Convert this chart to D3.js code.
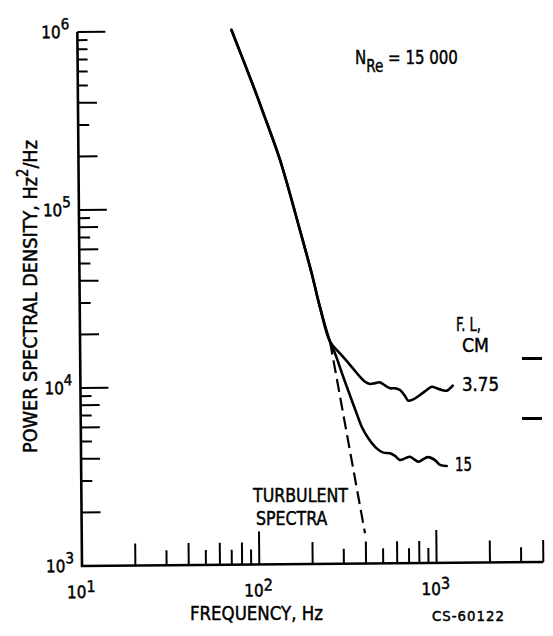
<!DOCTYPE html>
<html>
<head>
<meta charset="utf-8">
<script src="https://cdn.jsdelivr.net/npm/d3@7"></script>
<style>
  body { margin: 0; background: #fff; }
  svg { display: block; background: #fff; }
  text { font-family: "DejaVu Sans Condensed", "Liberation Sans Narrow", "DejaVu Sans", sans-serif; fill: #000; stroke: #000; stroke-width: 0.45px; }
</style>
</head>
<body>
<svg id="chart" width="553" height="636"></svg>
<script>
// Power spectral density of the fluctuations vs. frequency, N_Re = 15 000
// Shared low-frequency part of the spectrum (Hz, Hz^2/Hz)
const mainFreq = [74, 98, 111, 137, 176, 204, 226, 257];
const mainPsd  = [1.01e6, 4.83e5, 3.42e5, 1.87e5, 7.53e4, 4.30e4, 2.79e4, 1.77e4];

// Branch for F.L. = 3.75 cm
const fl375Freq = [257, 292, 332, 378, 403, 430, 459, 489, 522, 557, 594, 634, 676, 705, 753, 822, 897, 958, 1023, 1090, 1162, 1215, 1259];
const fl375Psd  = [1.77e4, 1.52e4, 1.31e4, 1.12e4, 1.05e4, 1.02e4, 1.03e4, 1.04e4, 1.00e4, 9.62e3, 9.62e3, 9.40e3, 8.70e3, 8.18e3, 8.32e3, 8.79e3, 9.37e3, 9.77e3, 9.57e3, 9.36e3, 9.26e3, 9.55e3, 9.89e3];

// Branch for F.L. = 15 cm
const fl15Freq = [257, 274, 304, 338, 360, 384, 418, 465, 507, 553, 590, 629, 671, 717, 764, 798, 851, 908, 991, 1057, 1153];
const fl15Psd  = [1.77e4, 1.52e4, 1.12e4, 8.30e3, 6.98e3, 5.87e3, 5.05e3, 4.43e3, 4.19e3, 4.15e3, 4.01e3, 3.80e3, 3.88e3, 3.96e3, 3.80e3, 3.71e3, 3.83e3, 3.93e3, 3.78e3, 3.55e3, 3.50e3];

// Extrapolated turbulent spectrum (straight power law)
const turbFreq = [257, 396];
const turbPsd  = [1.77e4, 1.48e3];

// Axis decades and their exponent labels
const xDomain = [10, 4000];
const yDomain = [1e3, 1e6];
const xTickExp = [1, 2, 3];
const yTickExp = [3, 4, 5, 6];

// Branch labels
const branchLabels = ["3.75", "15"];

const svg = d3.select("#chart");
const x0 = 82, y0 = 566, decX = 177.3, decY = 178;

const x = d3.scaleLog().domain(xDomain).range([x0, x0 + decX * Math.log10(xDomain[1] / xDomain[0])]);
const y = d3.scaleLog().domain(yDomain).range([y0, y0 - decY * Math.log10(yDomain[1] / yDomain[0])]);

// the whole frame sits slightly tilted
const g = svg.append("g").attr("transform", `rotate(-0.5 ${x0} ${y0})`);

// axis lines
g.append("path")
  .attr("d", `M${x0},${y(yDomain[1])}V${y0}H${x(xDomain[1])}`)
  .attr("fill", "none").attr("stroke", "#000").attr("stroke-width", 2.6)
  .attr("stroke-linejoin", "miter");

function mantissa(v) {
  return Math.round(v / Math.pow(10, Math.floor(Math.log10(v) + 1e-9)));
}

// x ticks (pointing up, inside the frame)
const xt = x.ticks().filter(t => t > xDomain[0] + 1e-9);
g.append("g").selectAll("line").data(xt).join("line")
  .attr("x1", d => x(d)).attr("x2", d => x(d))
  .attr("y1", y0)
  .attr("y2", d => {
    const m = mantissa(d);
    const len = m === 1 ? 33 : (m % 2 === 0 ? 22 : 15);
    return y0 - len;
  })
  .attr("stroke", "#000").attr("stroke-width", 2);

// y ticks (pointing right, inside the frame)
const yt = y.ticks().filter(t => t > yDomain[0] * 1.0001);
g.append("g").selectAll("line").data(yt).join("line")
  .attr("y1", d => y(d)).attr("y2", d => y(d))
  .attr("x1", x0)
  .attr("x2", d => {
    const m = mantissa(d);
    let len;
    if (m === 1) len = 28;
    else if (d > 1e5 && m >= 5) len = 10;
    else len = (m % 2 === 0) ? 19 : 11;
    return x0 + len;
  })
  .attr("stroke", "#000").attr("stroke-width", 2);

// x tick labels 10^n
xTickExp.forEach(e => {
  const t = g.append("text")
    .attr("x", x(Math.pow(10, e)) - 1).attr("y", y0 + 32)
    .attr("text-anchor", "middle").attr("font-size", 17);
  t.append("tspan").text("10");
  t.append("tspan").attr("dy", -6).attr("font-size", 16).text(e);
});

// y tick labels 10^n
yTickExp.forEach(e => {
  const t = g.append("text")
    .attr("x", x0 - 8).attr("y", y(Math.pow(10, e)) + 6)
    .attr("text-anchor", "end").attr("font-size", 17);
  t.append("tspan").text("10");
  t.append("tspan").attr("dy", -9).attr("font-size", 15).text(e);
});

// curves
const line = d3.line()
  .x(d => x(d[0])).y(d => y(d[1]))
  .curve(d3.curveCatmullRom.alpha(0.5));

const mainPts = mainFreq.map((f, i) => [f, mainPsd[i]]);
const b375 = mainPts.concat(fl375Freq.slice(1).map((f, i) => [f, fl375Psd[i + 1]]));
const b15 = mainPts.concat(fl15Freq.slice(1).map((f, i) => [f, fl15Psd[i + 1]]));
const turb = turbFreq.map((f, i) => [f, turbPsd[i]]);

[b375, b15].forEach(pts => {
  g.append("path").datum(pts).attr("d", line)
    .attr("fill", "none").attr("stroke", "#000").attr("stroke-width", 2.6)
    .attr("stroke-linecap", "round").attr("stroke-linejoin", "round");
});

g.append("path").datum(turb).attr("d", d3.line().x(d => x(d[0])).y(d => y(d[1])))
  .attr("fill", "none").attr("stroke", "#000").attr("stroke-width", 2.2)
  .attr("stroke-dasharray", "13,6");

// text helper: squeeze a text to a given width
function fitText(sel, width, tx, ty, rot) {
  const w = sel.node().getBBox().width;
  const s = width / w;
  sel.attr("transform", `translate(${tx},${ty})` + (rot ? ` rotate(${rot})` : "") + ` scale(${s},1)`);
}

// axis titles
const yTitle = svg.append("text").attr("x", 0).attr("y", 0)
  .attr("text-anchor", "middle").attr("font-size", 20);
yTitle.append("tspan").text("POWER SPECTRAL DENSITY, Hz");
yTitle.append("tspan").attr("dy", -9).attr("font-size", 15).text("2");
yTitle.append("tspan").attr("dy", 9).text("/Hz");
fitText(yTitle, 313, 37, 296.5, -90);

const xTitle = svg.append("text").attr("x", 0).attr("y", 0).attr("font-size", 20)
  .text("FREQUENCY, Hz");
fitText(xTitle, 133, 190, 620);

const code = svg.append("text").attr("x", 0).attr("y", 0).attr("font-size", 14)
  .attr("letter-spacing", 1).text("CS-60122");
fitText(code, 73, 432, 621);

// Reynolds number
const re = svg.append("text").attr("x", 0).attr("y", 0).attr("font-size", 20);
re.append("tspan").text("N");
re.append("tspan").attr("dy", 8).attr("font-size", 18).text("Re");
re.append("tspan").attr("dy", -8).text(" = 15 000");
fitText(re, 103, 355, 64);

// turbulent spectra note (two lines in one text block)
const turbNote = svg.append("text").attr("font-size", 20);
const tl1 = turbNote.append("tspan").attr("x", 0).attr("y", 0).text("TURBULENT");
const tl2 = turbNote.append("tspan").attr("y", 23).text("SPECTRA");
{
  const s = 95 / tl1.node().getComputedTextLength();
  tl2.attr("x", 3 / s);
  turbNote.attr("transform", `translate(253,502) scale(${s},1)`);
}

// F.L. legend header (two lines in one text block)
const flHead = svg.append("text").attr("font-size", 20);
const fh1 = flHead.append("tspan").attr("x", 0).attr("y", 0).text("F. L,");
const fh2 = flHead.append("tspan").attr("y", 21).text("CM");
{
  const s = 25 / fh1.node().getComputedTextLength();
  fh2.attr("x", 6 / s)
    .attr("textLength", 27 / s).attr("lengthAdjust", "spacingAndGlyphs");
  flHead.attr("transform", `translate(456,331) scale(${s},1)`);
}

[358.5, 418.5].forEach(yy => {
  svg.append("line").attr("x1", 522).attr("x2", 542).attr("y1", yy).attr("y2", yy)
    .attr("stroke", "#000").attr("stroke-width", 3);
});

// branch labels
const l1 = svg.append("text").attr("x", 0).attr("y", 0).attr("font-size", 20).text(branchLabels[0]);
fitText(l1, 37, 462, 391);
const l2 = svg.append("text").attr("x", 0).attr("y", 0).attr("font-size", 20).text(branchLabels[1]);
fitText(l2, 17, 455, 471);
</script>
</body>
</html>
